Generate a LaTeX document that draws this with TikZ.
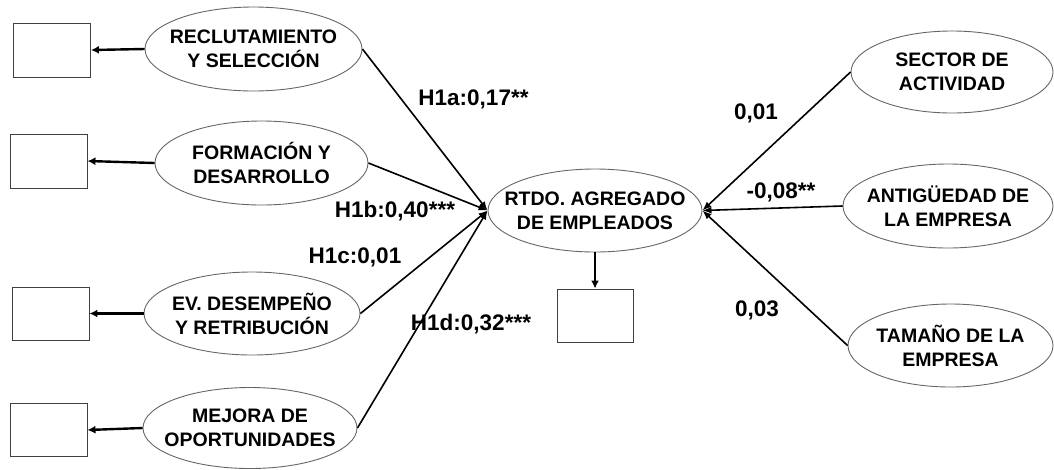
\documentclass[tikz,border=0pt]{standalone}
\usepackage{fontspec}
\setmainfont{Liberation Sans}
\usetikzlibrary{arrows.meta,shapes.geometric}
\begin{document}
\begin{tikzpicture}[x=1pt,y=-1pt,
  ell/.style={ellipse,draw=black!60,line width=0.9pt,inner xsep=-40pt,inner ysep=-12pt,align=center,
    font=\bfseries\fontsize{19.5}{24}\selectfont},
  obs/.style={rectangle,draw=black!75,line width=0.9pt,inner sep=0pt,minimum width=77pt,minimum height=54pt},
  lbl/.style={font=\bfseries\fontsize{22.5}{25}\selectfont,inner sep=0pt,text height=16pt,text depth=0pt},
  conn/.style={line width=1.6pt,-{Latex[length=9pt,width=7pt]}},
  ind/.style={line width=2.4pt,-{Latex[length=8pt,width=8pt]}}]
\useasboundingbox (0,0) rectangle (1054,469);
% boxes
\node[obs] (b1) at (52,50) {};
\node[obs] (b2) at (48.5,161) {};
\node[obs,minimum height=53pt] (b3) at (50.5,313.5) {};
\node[obs,minimum height=53pt] (b4) at (48.5,430) {};
\node[obs,minimum width=76pt,minimum height=53pt] (bc) at (595,315.5) {};
% ellipses
\node[ell,minimum width=217pt,minimum height=84pt] (rec) at (253.5,49) {RECLUTAMIENTO\\Y SELECCIÓN};
\node[ell,minimum width=213pt,minimum height=84pt] (for) at (261.5,163) {FORMACIÓN Y\\DESARROLLO};
\node[ell,minimum width=216pt,minimum height=83pt] (ev) at (252,313.5) {EV. DESEMPEÑO\\Y RETRIBUCIÓN};
\node[ell,minimum width=214pt,minimum height=81pt] (mej) at (250,428) {MEJORA DE\\OPORTUNIDADES};
\node[ell,minimum width=214pt,minimum height=83pt] (rt) at (595,210.5) {RTDO. AGREGADO\\DE EMPLEADOS};
\node[ell,minimum width=202pt,minimum height=82pt] (sec) at (952,72) {SECTOR DE\\ACTIVIDAD};
\node[ell,minimum width=210pt,minimum height=84pt] (ant) at (948,206) {ANTIGÜEDAD DE\\LA EMPRESA};
\node[ell,minimum width=205pt,minimum height=83pt] (tam) at (950.5,345.5) {TAMAÑO DE LA\\EMPRESA};
% indicator arrows
\draw[ind] (rec.west) -- (b1.east);
\draw[ind] (for.west) -- (b2.east);
\draw[ind] (ev.west) -- (b3.east);
\draw[ind] (mej.west) -- (b4.east);
\draw[ind] (rt.south) -- (bc.north);
% structural paths
\draw[conn] (rec.east) -- (rt.west);
\draw[conn] (for.east) -- (rt.west);
\draw[conn] (ev.east) -- (rt.west);
\draw[conn] (mej.east) -- (rt.west);
\draw[conn] (sec.west) -- (rt.east);
\draw[conn] (ant.west) -- (rt.east);
\draw[conn] (tam.west) -- (rt.east);
% labels
\node[lbl] (la) at (473.5,97.5) {H1a:0,17**};
\node[lbl] (lb) at (395,209) {H1b:0,40***};
\node[lbl] (lc) at (355,255.5) {H1c:0,01};
\node[lbl] (ld) at (471,322) {H1d:0,32***};
\node[lbl] (l1) at (756,111) {0,01};
\node[lbl] (l2) at (781,190) {-0,08**};
\node[lbl] (l3) at (757,308) {0,03};
\end{tikzpicture}
\end{document}
